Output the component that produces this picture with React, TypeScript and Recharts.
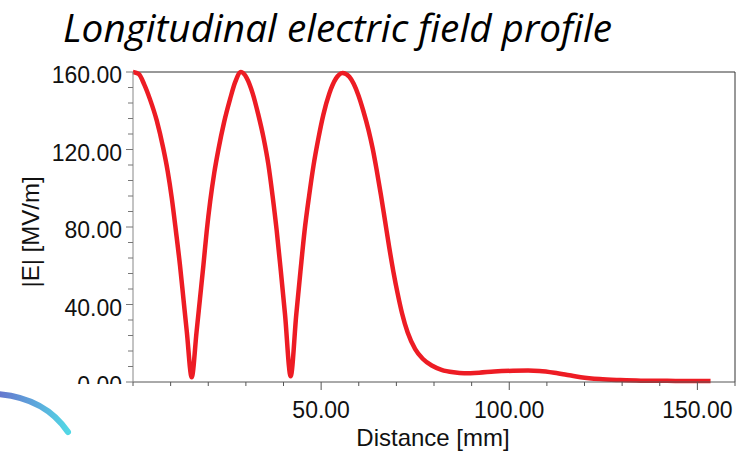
import React from 'react';
import { LineChart, Line, XAxis, YAxis, ReferenceLine, Label } from 'recharts';

const distanceMm = [
  0, 1.5, 3, 4.5, 6.3, 8, 9.2, 10.3, 11.4, 12.5, 13.4, 14.3, 15.6, 16.9, 17.8, 18.7, 19.6, 20.5, 21.6, 22.7, 24.2, 25.8, 27.2, 28.7,
  30.2, 31.8, 33.3, 34.7, 36, 37.1, 38.2, 39.3, 40.4, 41.9, 43.4, 44.5, 45.6, 46.8, 48, 49.3, 50.6, 52.2, 53.9, 55.7,
  57.5, 59.9, 61.2, 62.6, 63.7, 64.8, 65.9, 67, 68.1, 69.2, 70.3, 71.5, 73, 75, 77, 79.4, 82, 85.2, 88, 92, 96, 101, 105, 108,
  112, 116, 119, 124, 129.5, 135, 142, 148, 153.5,
];
const fieldMVm = [
  160, 159, 153.5, 146, 135, 121, 109, 95, 78, 60, 43, 26, 2.5, 26, 43, 60, 78, 93, 108, 120, 134, 146, 155, 160,
  157, 149, 138, 126, 112, 96, 78, 57, 35, 3, 35, 57, 78, 96, 112, 126, 138, 149, 156.5, 159.5,
  157.5, 148, 140, 130, 120.5, 109, 96.5, 83, 69.5, 57, 46, 35.5, 25.5, 17, 12, 8.5, 6.3, 5, 4.5, 4.8, 5.4, 5.8, 5.9, 5.7,
  4.8, 3.5, 2.5, 1.5, 1, 0.7, 0.6, 0.5, 0.5,
];

const xTicks = [0, 10, 20, 30, 40, 50, 60, 70, 80, 90, 100, 110, 120, 130, 140, 150, 160];
const xLabelTicks = [50, 100, 150];
const yTicks = [0, 8, 16, 24, 32, 40, 48, 56, 64, 72, 80, 88, 96, 104, 112, 120, 128, 136, 144, 152, 160];
const yLabelTicks = [0, 40, 80, 120, 160];

const titleText = 'Longitudinal electric field profile';
const xTitle = 'Distance [mm]';
const yTitle = '|E| [MV/m]';

const data = distanceMm.map((d, i) => ({ d, e: fieldMVm[i] }));

const FONT = '"Liberation Sans", Arial, sans-serif';

const XTick = (props: any) => {
  const { x, y, payload } = props;
  const v = payload.value;
  const major = xLabelTicks.includes(v);
  return (
    <g>
      <line x1={x} x2={x} y1={y} y2={y + (major ? 8 : 4)} stroke="#555" strokeWidth={1} />
      {major && (
        <text x={x} y={y + 36} textAnchor="middle" fontSize={23} fontFamily={FONT} fill="#111">
          {v.toFixed(2)}
        </text>
      )}
    </g>
  );
};

const YTick = (props: any) => {
  const { x, y, payload } = props;
  const v = payload.value;
  const major = yLabelTicks.includes(v);
  const cid = 'yclip-' + v;
  return (
    <g>
      <line x1={x - (major ? 7 : 5)} x2={x} y1={y} y2={y} stroke="#777" strokeWidth={1} />
      {major && (
        <>
          <defs>
            <clipPath id={cid}>
              <rect x={0} y={0} width={x} height={384} />
            </clipPath>
          </defs>
          <text x={x - 11} y={y + 11} textAnchor="end" fontSize={23} fontFamily={FONT} fill="#111" clipPath={`url(#${cid})`}>
            {v.toFixed(2)}
          </text>
        </>
      )}
    </g>
  );
};

const YTitle = (props: any) => {
  const vb = props.viewBox || { x: 0, y: 72, width: 133, height: 310 };
  const cx = vb.x + 30;
  const cy = vb.y + vb.height / 2 + 5;
  return (
    <text x={cx} y={cy} transform={`rotate(-90 ${cx} ${cy})`} textAnchor="middle" dominantBaseline="central" fontSize={24} fontFamily={FONT} fill="#111">
      {yTitle}
    </text>
  );
};

const XTitle = (props: any) => {
  const vb = props.viewBox || { x: 133, y: 382, width: 602, height: 69 };
  const cx = vb.x + vb.width / 2 - 1;
  return (
    <text x={cx} y={vb.y + 64} textAnchor="middle" fontSize={24} fontFamily={FONT} fill="#111">
      {xTitle}
    </text>
  );
};

export default function App() {
  return (
    <div style={{ position: 'absolute', left: 0, top: 0, width: 738, height: 451, background: '#fff' }}>
      <LineChart width={738} height={451} data={data} margin={{ top: 72, right: 3, bottom: 0, left: 0 }}>
        <XAxis
          dataKey="d"
          type="number"
          domain={[0, 160]}
          ticks={xTicks}
          interval={0}
          tickSize={0}
          tickMargin={0}
          tickLine={false}
          tick={<XTick />}
          height={69}
          axisLine={{ stroke: '#555', strokeWidth: 1 }}
        >
          <Label content={<XTitle />} />
        </XAxis>
        <YAxis
          type="number"
          domain={[0, 160]}
          ticks={yTicks}
          interval={0}
          tickSize={0}
          tickMargin={0}
          tickLine={false}
          tick={<YTick />}
          width={133}
          axisLine={{ stroke: '#888', strokeWidth: 1 }}
        >
          <Label content={<YTitle />} />
        </YAxis>
        <ReferenceLine y={160} stroke="#333" strokeWidth={1} />
        <ReferenceLine x={160} stroke="#333" strokeWidth={1} />
        <Line
          dataKey="e"
          type="monotone"
          stroke="#ED1C24"
          strokeWidth={4.5}
          dot={false}
          isAnimationActive={false}
        />
      </LineChart>
      <svg width={738} height={451} style={{ position: 'absolute', left: 0, top: 0, pointerEvents: 'none' }}>
        <defs>
          <linearGradient id="arcGrad" x1="0" y1="0" x2="1" y2="0">
            <stop offset="0%" stopColor="#5565c8" />
            <stop offset="55%" stopColor="#4a9fd8" />
            <stop offset="100%" stopColor="#3fd3e2" />
          </linearGradient>
        </defs>
        <path d="M -2 394 Q 45 398 68 432" stroke="url(#arcGrad)" strokeWidth={6} strokeLinecap="round" fill="none" opacity={0.9} />
        <text
          x={63}
          y={42}
          fontSize={38}
          fontStyle="italic"
          fontFamily='"Open Sans", "Noto Sans", sans-serif'
          textLength={549}
          lengthAdjust="spacingAndGlyphs"
          fill="#000"
        >
          {titleText}
        </text>
      </svg>
    </div>
  );
}
